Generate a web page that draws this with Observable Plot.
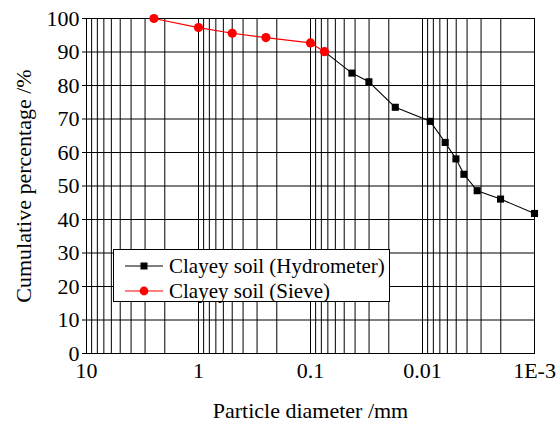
<!DOCTYPE html>
<html>
<head>
<meta charset="utf-8">
<script src="https://cdn.jsdelivr.net/npm/d3@7"></script>
<script src="https://cdn.jsdelivr.net/npm/@observablehq/plot@0.6"></script>
<style>
  body { margin: 0; background: #fff; }
  #chart { position: relative; width: 556px; height: 422px; font-family: "Liberation Serif", "Times New Roman", serif; }
  #legend {
    position: absolute; left: 113px; top: 249px; width: 277px; height: 53px;
    box-sizing: border-box; border: 1px solid #000; background: #fff;
    font-family: "Liberation Serif", "Times New Roman", serif;
    font-size: 21px; color: #000;
  }
  #legend .row { position: absolute; left: 0; height: 24px; display: flex; align-items: center; white-space: nowrap; }
  #legend svg { display: block; margin-left: 11px; margin-right: 6px; }
</style>
</head>
<body>
<div id="chart"></div>
<script>
// Sieve analysis: particle diameter (mm) and cumulative passing (%)
const sieveDiameter = [2.5, 1, 0.5, 0.25, 0.1, 0.075];
const sievePercent = [100, 97.3, 95.6, 94.3, 92.7, 90.1];

// Hydrometer analysis, continuing from the finest sieve
const hydroDiameter = [0.075, 0.0427, 0.0301, 0.0175, 0.00853, 0.00627, 0.00503, 0.00427, 0.00325, 0.00201, 0.001];
const hydroPercent = [90.1, 83.7, 81.1, 73.5, 69.3, 63.0, 58.1, 53.5, 48.6, 46.1, 41.8];

const seriesNames = ["Clayey soil (Hydrometer)", "Clayey soil (Sieve)"];

const xTicks = [10, 1, 0.1, 0.01, 0.001];
const xTickLabels = ["10", "1", "0.1", "0.01", "1E-3"];
const yTicks = [0, 10, 20, 30, 40, 50, 60, 70, 80, 90, 100];
const xTitle = "Particle diameter /mm";
const yTitle = "Cumulative percentage /%";

// log grid: 1..9 in each decade from 0.001 up to 10
const xGrid = [];
for (const e of [-3, -2, -1, 0]) for (let m = 1; m <= 9; m++) xGrid.push(+(m * 10 ** e).toPrecision(3));
xGrid.push(10);

const sieve = sieveDiameter.map((d, i) => ({d, p: sievePercent[i]}));
const hydro = hydroDiameter.map((d, i) => ({d, p: hydroPercent[i]}));

const font = "'Liberation Serif', 'Times New Roman', serif";

const chart = Plot.plot({
  width: 556,
  height: 422,
  marginLeft: 86,
  marginRight: 22,
  marginTop: 18,
  marginBottom: 69,
  style: {fontFamily: font, fontSize: "22px", color: "#000", background: "#fff"},
  x: {type: "log", domain: [10, 0.001], axis: null},
  y: {domain: [0, 100], axis: null},
  marks: [
    Plot.ruleX(xGrid, {stroke: "#000", strokeWidth: 1}),
    Plot.ruleY(yTicks, {stroke: "#000", strokeWidth: 1}),
    Plot.axisX(xTicks, {
      tickSize: 0, tickPadding: 9, fontSize: 22,
      tickFormat: (d) => xTickLabels[xTicks.indexOf(d)], label: null
    }),
    Plot.axisY(yTicks, {tickSize: 4, tickPadding: 3, fontSize: 22, label: null}),
    Plot.frame({stroke: "#000", strokeWidth: 1}),
    Plot.line(hydro, {x: "d", y: "p", stroke: "#000", strokeWidth: 1.1}),
    Plot.dot(hydro.slice(1), {x: "d", y: "p", symbol: "square", fill: "#000", r: 4}),
    Plot.line(sieve, {x: "d", y: "p", stroke: "#ff0000", strokeWidth: 1.2}),
    Plot.dot(sieve, {x: "d", y: "p", symbol: "circle", fill: "#ff0000", r: 4.6}),
    Plot.text([xTitle], {frameAnchor: "bottom", textAnchor: "middle", dy: 57, text: (d) => d, fontSize: 22, fill: "#000", lineAnchor: "middle"}),
    Plot.text([yTitle], {frameAnchor: "left", textAnchor: "middle", dx: -63, rotate: -90, text: (d) => d, fontSize: 22, fill: "#000", lineAnchor: "middle"})
  ]
});

const root = document.getElementById("chart");
root.appendChild(chart);

// legend box
const legend = document.createElement("div");
legend.id = "legend";
const legendStyles = [
  {stroke: "#000", marker: (s) => s.append("rect").attr("x", 15.5).attr("y", 8.5).attr("width", 7).attr("height", 7).attr("fill", "#000")},
  {stroke: "#ff0000", marker: (s) => s.append("circle").attr("cx", 19).attr("cy", 12).attr("r", 4.4).attr("fill", "#ff0000")}
];
seriesNames.forEach((name, i) => {
  const row = document.createElement("div");
  row.className = "row";
  row.style.top = (4 + i * 25) + "px";
  const svg = d3.create("svg").attr("width", 38).attr("height", 24);
  svg.append("line").attr("x1", 0).attr("x2", 38).attr("y1", 12).attr("y2", 12)
    .attr("stroke", legendStyles[i].stroke).attr("stroke-width", 1.1);
  legendStyles[i].marker(svg);
  row.appendChild(svg.node());
  const label = document.createElement("span");
  label.textContent = name;
  row.appendChild(label);
  legend.appendChild(row);
});
root.appendChild(legend);
</script>
</body>
</html>
